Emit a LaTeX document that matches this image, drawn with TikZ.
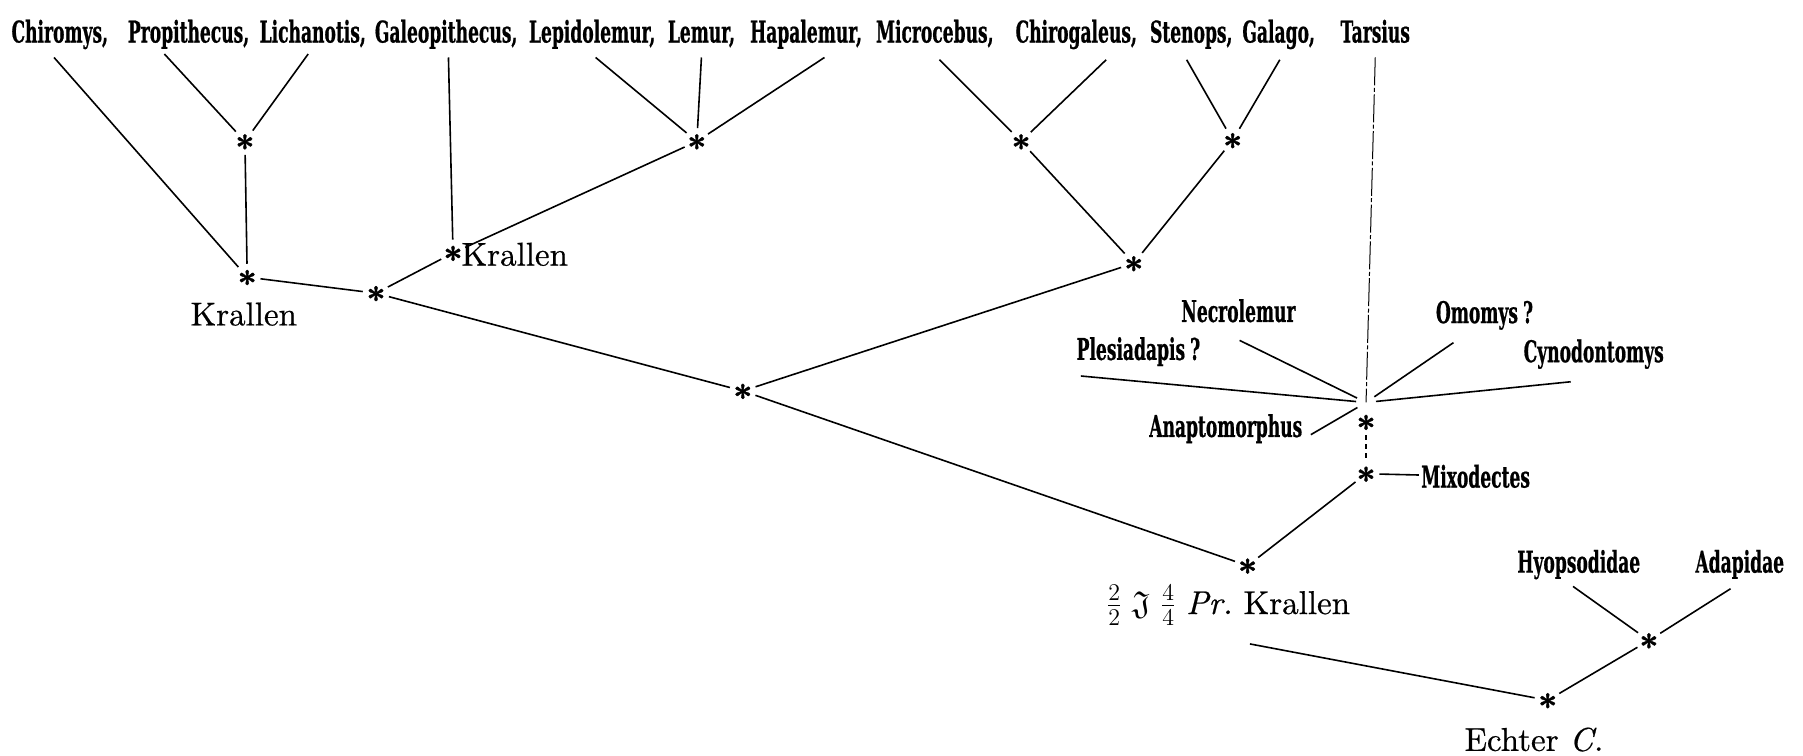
\documentclass[tikz,border=0pt]{standalone}
\usepackage{amssymb}
\usepackage{fontspec}
\newfontfamily\genusfont[FakeStretch=0.57, FakeBold=0.6]{DejaVu Serif}
\newfontfamily\notefont[FakeBold=0.6, ItalicFont=lmroman10-italic.otf, ItalicFeatures={FakeBold=0.6}]{lmroman10-regular.otf}
\newfontfamily\knotfont[FakeBold=1.2]{lmroman10-bold.otf}
\newcommand{\knotmark}{\raisebox{-0.54em}[0.25em][0.25em]{*}}
\usetikzlibrary{positioning}

\begin{document}
\begin{tikzpicture}[x=0.575pt, y=-0.575pt, line join=round,
    knot/.style={font=\knotfont\fontsize{17}{17}\selectfont, circle, inner sep=0pt},
    genus/.style={font=\genusfont\bfseries\fontsize{15}{15}\selectfont, inner sep=1pt, anchor=base},
    note/.style={font=\notefont\fontsize{16.5}{17}\selectfont, inner sep=0pt, anchor=base},
    branch/.style={line width=0.8pt},
    tarsline/.style={line width=0.5pt, dash pattern=on 14pt off 1.2pt on 2pt off 1.2pt},
    gapline/.style={line width=0.6pt, dash pattern=on 2.5pt off 2pt}]
  \useasboundingbox (0,0) rectangle (1568,657);

  % top row of genera
  \node[genus] (chiromys)      at (52,37)   {Chiromys,};
  \node[genus] (propithecus)   at (164,37)  {Propithecus,};
  \node[genus] (lichanotis)    at (272,37)  {Lichanotis,};
  \node[genus] (galeopithecus) at (388,37)  {Galeopithecus,};
  \node[genus] (lepidolemur)   at (515,37)  {Lepidolemur,};
  \node[genus] (lemur)         at (610,37)  {Lemur,};
  \node[genus] (hapalemur)     at (701,37)  {Hapalemur,};
  \node[genus] (microcebus)    at (813,37)  {Microcebus,};
  \node[genus] (chirogaleus)   at (936,37)  {Chirogaleus,};
  \node[genus] (stenops)       at (1036,37) {Stenops,};
  \node[genus] (galago)        at (1112,37) {Galago,};
  \node[genus] (tarsius)       at (1196,37) {Tarsius};

  % fossil genera round Tarsius
  \node[genus] (necrolemur)    at (1077,280) {Necrolemur};
  \node[genus] (omomys)        at (1291,281) {Omomys\,?};
  \node[genus] (plesiadapis)   at (990,313)  {Plesiadapis\,?};
  \node[genus] (cynodontomys)  at (1386,315) {Cynodontomys};
  \node[genus] (anaptomorphus) at (1066,380) {Anaptomorphus};
  \node[genus, anchor=base west] (mixodectes) at (1234,424) {Mixodectes};
  \node[genus] (hyopsodidae)   at (1373,498) {Hyopsodidae};
  \node[genus] (adapidae)      at (1513,498) {Adapidae};

  % branching points
  \node[knot] (s1)  at (213,123)  {\knotmark};
  \node[knot] (s2)  at (215,241)  {\knotmark};
  \node[knot] (s3)  at (394,220)  {\knotmark};
  \node[knot] (s4)  at (606,123)  {\knotmark};
  \node[knot] (s5)  at (327,255)  {\knotmark};
  \node[knot] (s6)  at (888,123)  {\knotmark};
  \node[knot] (s7)  at (1072,122) {\knotmark};
  \node[knot] (s8)  at (986,229)  {\knotmark};
  \node[knot] (s9)  at (646,340)  {\knotmark};
  \node[knot] (s10) at (1188,367) {\knotmark};
  \node[knot] (s11) at (1188,412) {\knotmark};
  \node[knot] (s12) at (1085,492) {\knotmark};
  \node[knot] (s13) at (1346,609) {\knotmark};
  \node[knot] (s14) at (1434,557) {\knotmark};

  % labels of the branching points
  \node[note] (krallen1) at (212,283) {Krallen};
  \node[note, anchor=base west] (krallen2) at (401,231) {Krallen};
  \node[note] (formula) at (1068,534) {$\frac{2}{2}\;\mathfrak{J}\;\frac{4}{4}\;$\itshape Pr.\upshape\ Krallen};
  \node[note] (echter) at (1334,653) {Echter \itshape C.};

  % feet of the lines under the names
  \coordinate (chiromys-foot)      at (47,50);
  \coordinate (propithecus-foot)   at (143,47);
  \coordinate (lichanotis-foot)    at (268,47);
  \coordinate (galeopithecus-foot) at (390,50);
  \coordinate (lepidolemur-foot)   at (518,50);
  \coordinate (lemur-foot)         at (610,50);
  \coordinate (hapalemur-foot)     at (717,50);
  \coordinate (microcebus-foot)    at (817,52);
  \coordinate (chirogaleus-foot)   at (962,52);
  \coordinate (stenops-foot)       at (1032,52);
  \coordinate (galago-foot)        at (1113,52);
  \coordinate (tarsius-foot)       at (1196,50);
  \coordinate (necrolemur-foot)    at (1078,296);
  \coordinate (plesiadapis-foot)   at (940,327);
  \coordinate (omomys-foot)        at (1264,298);
  \coordinate (cynodontomys-foot)  at (1366,332);
  \coordinate (anaptomorphus-foot) at (1140,378);
  \coordinate (hyopsodidae-foot)   at (1368,510);
  \coordinate (adapidae-foot)      at (1505,512);
  \coordinate (formula-foot)       at (1087,560);
  \coordinate (hub) at (1188,350);   % where the Tarsius rays meet

  % recent forms
  \draw[branch] (chiromys-foot) -- (s2);
  \draw[branch] (propithecus-foot) -- (s1);
  \draw[branch] (lichanotis-foot) -- (s1);
  \draw[branch] (galeopithecus-foot) -- (s3);
  \draw[branch] (lepidolemur-foot) -- (s4);
  \draw[branch] (lemur-foot) -- (s4);
  \draw[branch] (hapalemur-foot) -- (s4);
  \draw[branch] (microcebus-foot) -- (s6);
  \draw[branch] (chirogaleus-foot) -- (s6);
  \draw[branch] (stenops-foot) -- (s7);
  \draw[branch] (galago-foot) -- (s7);

  % inner branches
  \draw[branch] (s1) -- (s2);
  \draw[branch] (s2) -- (s5);
  \draw[branch] (s4) -- (s3);
  \draw[branch] (s3) -- (s5);
  \draw[branch] (s5) -- (s9);
  \draw[branch] (s6) -- (s8);
  \draw[branch] (s7) -- (s8);
  \draw[branch] (s8) -- (s9);
  \draw[branch] (s9) -- (s12);

  % Tarsius group
  \draw[tarsline] (tarsius-foot) -- (hub);
  \draw[branch, shorten >=5pt] (necrolemur-foot) -- (hub);
  \draw[branch, shorten >=5pt] (plesiadapis-foot) -- (hub);
  \draw[branch, shorten >=5pt] (omomys-foot) -- (hub);
  \draw[branch, shorten >=5pt] (cynodontomys-foot) -- (hub);
  \draw[branch, shorten >=5pt] (anaptomorphus-foot) -- (hub);
  \draw[gapline] (s10) -- (s11);
  \draw[branch] (s11) -- (mixodectes);
  \draw[branch] (s11) -- (s12);

  % root
  \draw[branch] (formula-foot) -- (s13);
  \draw[branch] (hyopsodidae-foot) -- (s14);
  \draw[branch] (adapidae-foot) -- (s14);
  \draw[branch] (s14) -- (s13);
\end{tikzpicture}
\end{document}
